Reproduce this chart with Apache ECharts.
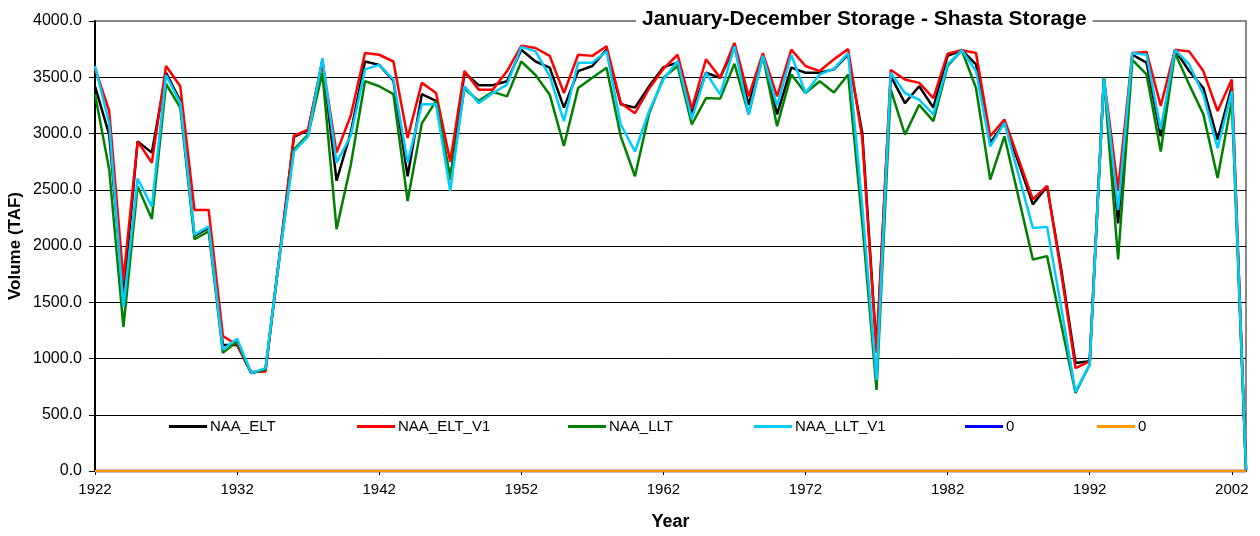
<!DOCTYPE html>
<html>
<head>
<meta charset="utf-8">
<title>January-December Storage - Shasta Storage</title>
<script src="https://cdn.jsdelivr.net/npm/echarts@6/dist/echarts.min.js"></script>
<style>
  html, body { margin: 0; padding: 0; background: #fff; }
  #main { width: 1260px; height: 536px; }
</style>
</head>
<body>
<div id="main"></div>
<script>
// water years 1922-2003
var years = [];
for (var y = 1922; y <= 2003; y++) years.push(String(y));

// storage values (TAF)
var naaElt = [3420, 2990, 1550, 2930, 2830, 3540, 3290, 2090, 2160, 1120,
  1120, 870, 900, 1930, 2970, 3030, 3650, 2580, 3010, 3640,
  3610, 3470, 2620, 3350, 3290, 2590, 3540, 3430, 3430, 3465,
  3745, 3640, 3585, 3230, 3555, 3600, 3745, 3260, 3230, 3420,
  3590, 3630, 3180, 3540, 3495, 3775, 3255, 3700, 3170, 3585,
  3540, 3540, 3570, 3700, 3000, 1080, 3510, 3270, 3420, 3230,
  3690, 3740, 3615, 2915, 3095, 2740, 2370, 2530, 1790, 960,
  975, 3495, 2200, 3700, 3630, 2975, 3745, 3555, 3405, 2945,
  3420, 10];
var naaEltV1 = [3580, 3200, 1700, 2930, 2740, 3600, 3420, 2320, 2320, 1200,
  1120, 880, 885, 1930, 2980, 3035, 3640, 2830, 3160, 3715,
  3700, 3640, 2960, 3450, 3360, 2750, 3555, 3390, 3390, 3555,
  3780, 3760, 3690, 3360, 3700, 3690, 3775, 3270, 3180, 3400,
  3575, 3700, 3220, 3660, 3495, 3805, 3330, 3715, 3330, 3745,
  3600, 3555, 3660, 3750, 2950, 1050, 3565, 3480, 3450, 3315,
  3710, 3740, 3715, 2975, 3125, 2770, 2415, 2535, 1760, 915,
  975, 3495, 2500, 3715, 3725, 3245, 3745, 3730, 3555, 3200,
  3480, 10];
var naaLlt = [3350, 2680, 1280, 2530, 2240, 3440, 3230, 2060, 2130, 1050,
  1150, 870, 905, 1920, 2860, 2990, 3540, 2150, 2720, 3465,
  3420, 3350, 2400, 3090, 3290, 2600, 3400, 3290, 3370, 3330,
  3640, 3520, 3345, 2890, 3405, 3495, 3585, 2975, 2620, 3180,
  3495, 3600, 3080, 3315, 3310, 3620, 3170, 3690, 3065, 3525,
  3360, 3465, 3365, 3525, 2200, 720, 3390, 2990, 3255, 3110,
  3600, 3740, 3405, 2590, 2975, 2430, 1880, 1910, 1300, 695,
  945, 3495, 1880, 3655, 3525, 2840, 3715, 3435, 3170, 2605,
  3290, 10];
var naaLltV1 = [3600, 3090, 1460, 2600, 2350, 3520, 3270, 2100, 2175, 1080,
  1175, 870, 915, 1920, 2840, 2975, 3670, 2740, 2980, 3570,
  3610, 3480, 2740, 3260, 3260, 2490, 3420, 3270, 3360, 3435,
  3770, 3730, 3510, 3110, 3630, 3630, 3730, 3080, 2840, 3200,
  3480, 3645, 3130, 3540, 3345, 3775, 3170, 3690, 3245, 3700,
  3360, 3525, 3575, 3715, 2350, 810, 3540, 3360, 3300, 3170,
  3615, 3740, 3555, 2885, 3095, 2630, 2160, 2170, 1450, 705,
  945, 3495, 2320, 3715, 3700, 3035, 3745, 3615, 3345, 2870,
  3375, 10];
var zeroA = years.map(function () { return 0; });
var zeroB = years.map(function () { return 0; });

var names = ["NAA_ELT", "NAA_ELT_V1", "NAA_LLT", "NAA_LLT_V1", "0", "0"];
var colors = ["#000000", "#ff0000", "#008000", "#00ccff", "#0000ff", "#ff9900"];
var values = [naaElt, naaEltV1, naaLlt, naaLltV1, zeroA, zeroB];
var legendLeft = [169, 357, 568, 754, 965, 1097];

var font = "Liberation Sans, Arial, sans-serif";

var myChart = echarts.init(document.getElementById("main"));

var option = {
  animation: false,
  backgroundColor: "#ffffff",
  textStyle: { fontFamily: font },
  title: {
    text: "January-December Storage - Shasta Storage",
    left: 636,
    top: 8,
    padding: [1, 6, 1, 6],
    backgroundColor: "#ffffff",
    textStyle: { fontFamily: font, fontSize: 21, fontWeight: "bold", color: "#000" }
  },
  legend: names.map(function (n, i) {
    return {
      left: legendLeft[i],
      top: 419,
      padding: 0,
      icon: "rect",
      itemWidth: 38,
      itemHeight: 3,
      selectedMode: false,
      textStyle: { fontFamily: font, fontSize: 15, color: "#000", padding: [0, 0, 0, -2] },
      data: [{ name: n, itemStyle: { color: colors[i] } }]
    };
  }),
  grid: {
    left: 95,
    right: 14,
    top: 21,
    bottom: 65,
    outerBoundsMode: "none",
    show: true,
    borderColor: "#888888",
    borderWidth: 2
  },
  xAxis: {
    type: "category",
    data: years,
    boundaryGap: false,
    name: "Year",
    nameLocation: "middle",
    nameGap: 42,
    nameTextStyle: { fontFamily: font, fontSize: 18, fontWeight: "bold", color: "#000" },
    axisLine: { lineStyle: { color: "#000", width: 2 } },
    axisTick: { interval: 9, length: 4, lineStyle: { color: "#000" } },
    axisLabel: { interval: 9, margin: 11, fontFamily: font, fontSize: 15, color: "#000" },
    splitLine: { show: false }
  },
  yAxis: {
    type: "value",
    min: 0,
    max: 4000,
    interval: 500,
    name: "Volume (TAF)",
    nameLocation: "middle",
    nameGap: 71,
    nameMoveOverlap: false,
    nameRotate: 90,
    nameTextStyle: { fontFamily: font, fontSize: 17, fontWeight: "bold", color: "#000" },
    axisLine: { show: true, lineStyle: { color: "#000", width: 2 } },
    axisTick: { show: true, length: 6, lineStyle: { color: "#000" } },
    axisLabel: {
      margin: 13,
      fontFamily: font,
      fontSize: 16,
      color: "#000",
      formatter: function (v) { return v.toFixed(1); }
    },
    splitLine: { show: true, showMaxLine: false, lineStyle: { color: "#000", width: 1 } }
  },
  series: values.map(function (d, i) {
    return {
      name: names[i],
      type: "line",
      data: d,
      symbol: "none",
      clip: false,
      color: colors[i],
      lineStyle: { color: colors[i], width: 2.5 },
      z: 3 + i
    };
  })
};

myChart.setOption(option);
</script>
</body>
</html>
